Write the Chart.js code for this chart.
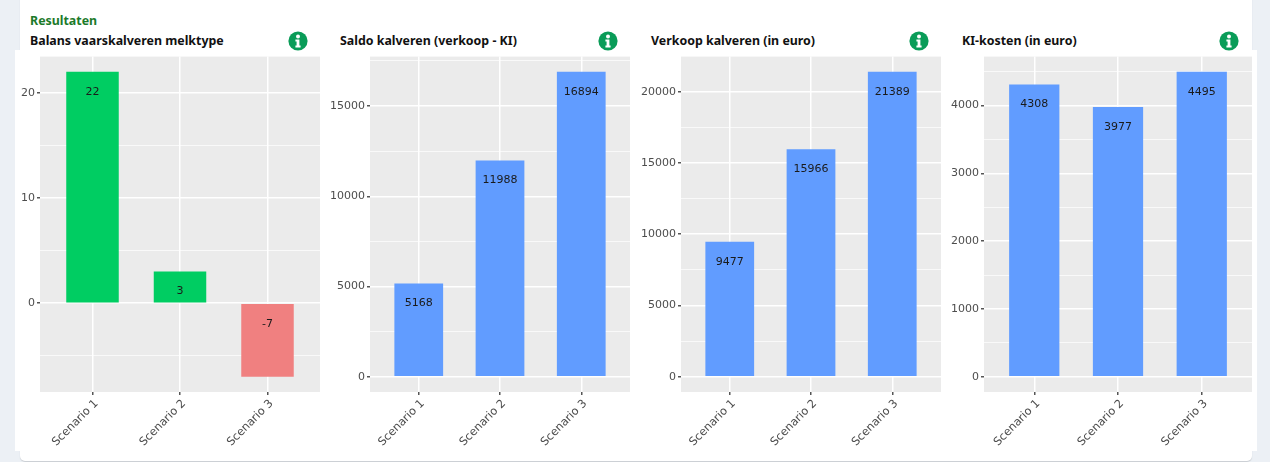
<!DOCTYPE html>
<html>
<head>
<meta charset="utf-8">
<script src="https://cdn.jsdelivr.net/npm/chart.js@4"></script>
<style>
  html, body { margin: 0; width: 1270px; height: 462px; overflow: hidden; background: #ecf0f5; font-family: "Noto Sans", sans-serif; }
  #card { position: absolute; left: 20px; top: -10px; width: 1232px; height: 471px; background: #fff; border-radius: 5px; box-shadow: 0 1px 1px #c9cdd2; }
  #band { position: absolute; left: 15px; top: 50px; width: 1242px; height: 401px; background: #fff; }
  .wrap { position: absolute; top: 48px; height: 403px; }
  .heading { position: absolute; font-size: 12.4px; font-weight: 700; color: #111; white-space: nowrap; line-height: 18px; top: 32px; }
  #main { position: absolute; left: 30px; top: 12px; font-size: 12.4px; font-weight: 700; color: #1c7a2a; line-height: 18px; }
  .info { position: absolute; top: 31px; width: 20px; height: 20px; }
</style>
</head>
<body>
<div id="card"></div>
<div id="band"></div>
<div id="main">Resultaten</div>
<div id="panels"></div>
<script>
const categories = ["Scenario 1", "Scenario 2", "Scenario 3"];

const balansValues = [22, 3, -7];
const saldoValues = [5168, 11988, 16894];
const verkoopValues = [9477, 15966, 21389];
const kostenValues = [4308, 3977, 4495];

const balansTicks = [0, 10, 20];
const saldoTicks = [0, 5000, 10000, 15000];
const verkoopTicks = [0, 5000, 10000, 15000, 20000];
const kostenTicks = [0, 1000, 2000, 3000, 4000];

const GREEN = "#00cd62";
const RED = "#f08080";
const BLUE = "#619cff";

const panels = [
    { title: "Balans vaarskalveren melktype", values: balansValues, ticks: balansTicks, colors: [GREEN, GREEN, RED], left: 15, width: 310, axis: 25, titleX: 30, iconX: 288 },
    { title: "Saldo kalveren (verkoop - KI)", values: saldoValues, ticks: saldoTicks, colors: [BLUE, BLUE, BLUE], left: 325, width: 310, axis: 45, titleX: 340, iconX: 598 },
    { title: "Verkoop kalveren (in euro)", values: verkoopValues, ticks: verkoopTicks, colors: [BLUE, BLUE, BLUE], left: 635, width: 311, axis: 46, titleX: 651, iconX: 909 },
    { title: "KI-kosten (in euro)", values: kostenValues, ticks: kostenTicks, colors: [BLUE, BLUE, BLUE], left: 946, width: 311, axis: 38, titleX: 962, iconX: 1219 },
];

// grey plot background, ggplot style
const panelBg = {
    id: "panelBg",
    beforeDraw(chart) {
        const a = chart.chartArea;
        chart.ctx.fillStyle = "#ebebeb";
        chart.ctx.fillRect(a.left, a.top, a.right - a.left, a.bottom - a.top);
    },
};

// value just below the top of each bar
const barLabels = {
    id: "barLabels",
    afterDatasetsDraw(chart) {
        const ctx = chart.ctx;
        const values = chart.data.datasets[0].data;
        ctx.save();
        ctx.font = '11px "DejaVu Sans"';
        ctx.fillStyle = "#1a1a1a";
        ctx.textAlign = "center";
        ctx.textBaseline = "middle";
        chart.getDatasetMeta(0).data.forEach((bar, i) => {
            ctx.fillText(values[i].y, bar.x, Math.min(bar.y, bar.base) + 20);
        });
        ctx.restore();
    },
};

function withMinors(major, min, max) {
    const step = major[1] - major[0];
    const all = [];
    for (let v = major[0] - step / 2; v >= min; v -= step / 2) all.push(v);
    major.forEach(v => {
        all.push(v);
        all.push(v + step / 2);
    });
    return all.filter(v => v >= min && v <= max).sort((a, b) => a - b);
}

const holder = document.getElementById("panels");

panels.forEach(p => {
    const heading = document.createElement("div");
    heading.className = "heading";
    heading.style.left = p.titleX + "px";
    heading.textContent = p.title;
    holder.appendChild(heading);

    const icon = document.createElementNS("http://www.w3.org/2000/svg", "svg");
    icon.setAttribute("class", "info");
    icon.setAttribute("viewBox", "0 0 20 20");
    icon.style.left = p.iconX + "px";
    icon.innerHTML = '<circle cx="10" cy="10" r="9.6" fill="#0a9c58"/><circle cx="10" cy="5.4" r="2" fill="#fff"/><path d="M7.4 8.4h4v6h1.2v2H7.4v-2h1.2v-4H7.4z" fill="#fff"/>';
    holder.appendChild(icon);

    const wrap = document.createElement("div");
    wrap.className = "wrap";
    wrap.style.left = p.left + "px";
    wrap.style.width = p.width + "px";
    const canvas = document.createElement("canvas");
    wrap.appendChild(canvas);
    holder.appendChild(wrap);

    const hi = Math.max(0, ...p.values);
    const lo = Math.min(0, ...p.values);
    const pad = (hi - lo) * 0.05;
    const yMin = lo - pad;
    const yMax = hi + pad;

    new Chart(canvas.getContext("2d"), {
        type: "bar",
        data: {
            datasets: [{
                data: p.values.map((v, i) => ({ x: i + 1, y: v })),
                backgroundColor: p.colors,
                barPercentage: 0.6,
                categoryPercentage: 1,
            }],
        },
        options: {
            responsive: true,
            maintainAspectRatio: false,
            animation: false,
            layout: { padding: { top: 6, right: 5, left: 0, bottom: 0 } },
            plugins: { legend: { display: false }, tooltip: { enabled: false } },
            scales: {
                x: {
                    type: "linear",
                    offset: false,
                    min: 0.4,
                    max: 3.6,
                    afterBuildTicks(scale) {
                        scale.ticks = categories.map((c, i) => ({ value: i + 1 }));
                    },
                    afterFit(scale) {
                        scale.height = 59;
                    },
                    border: { display: false },
                    grid: { offset: false, color: "#fff", lineWidth: 1.5, tickColor: "#555", tickLength: 3 },
                    ticks: {
                        autoSkip: false,
                        minRotation: 45,
                        maxRotation: 45,
                        padding: 2,
                        labelOffset: 4,
                        color: "#4d4d4d",
                        font: { family: "DejaVu Sans", size: 11.3 },
                        callback: v => categories[v - 1],
                    },
                },
                y: {
                    type: "linear",
                    min: yMin,
                    max: yMax,
                    afterBuildTicks(scale) {
                        scale.ticks = withMinors(p.ticks, yMin, yMax).map(v => ({ value: v }));
                    },
                    afterFit(scale) {
                        scale.width = p.axis;
                    },
                    border: { display: false },
                    grid: {
                        color: "#fff",
                        lineWidth: c => (p.ticks.includes(c.tick.value) ? 1.5 : 0.7),
                        tickColor: c => (p.ticks.includes(c.tick.value) ? "#555" : "rgba(0,0,0,0)"),
                        tickLength: 3,
                    },
                    ticks: {
                        autoSkip: false,
                        padding: 2,
                        color: "#4d4d4d",
                        font: { family: "DejaVu Sans", size: 11 },
                        callback: v => (p.ticks.includes(v) ? String(v) : ""),
                    },
                },
            },
        },
        plugins: [panelBg, barLabels],
    });
});
</script>
</body>
</html>
